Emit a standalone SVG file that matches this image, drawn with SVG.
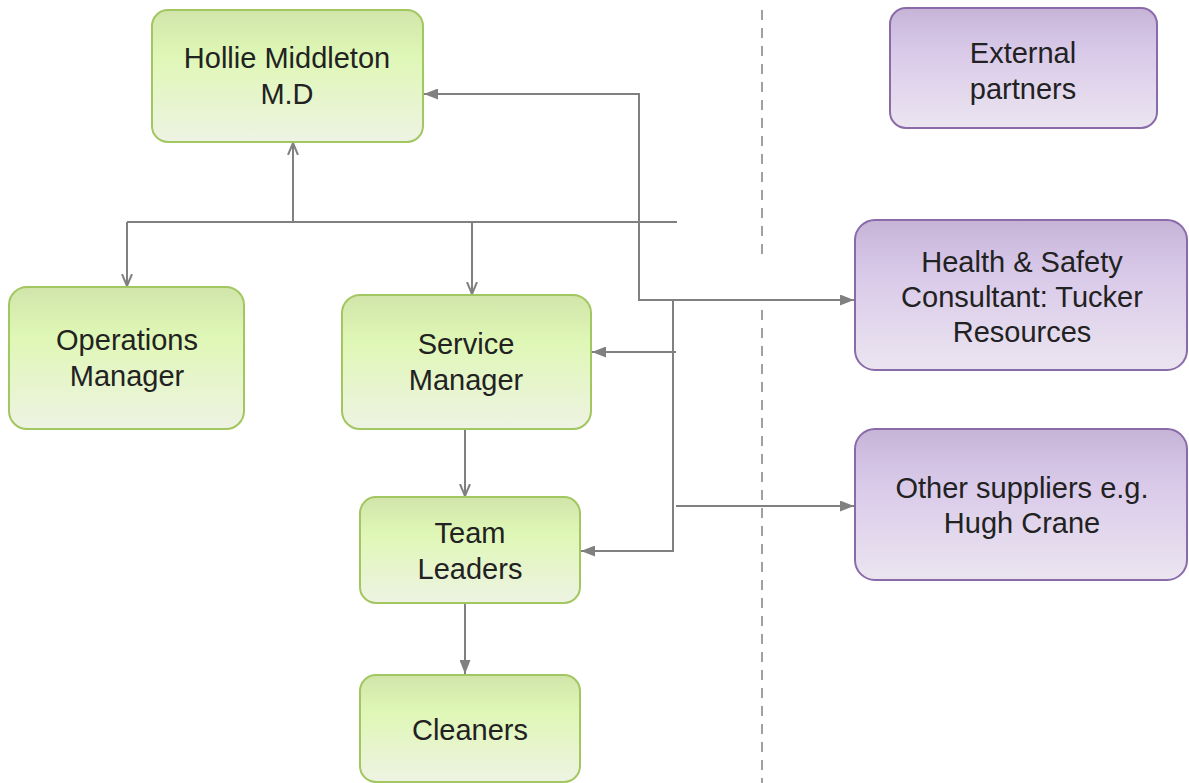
<svg xmlns="http://www.w3.org/2000/svg" width="1189" height="783" viewBox="0 0 1189 783">
<defs>
<linearGradient id="gG" x1="0" y1="0" x2="0" y2="1">
<stop offset="0" stop-color="#d1e5aa"/>
<stop offset="0.35" stop-color="#dff7b6"/>
<stop offset="1" stop-color="#eef3e3"/>
</linearGradient>
<linearGradient id="gP" x1="0" y1="0" x2="0" y2="1">
<stop offset="0" stop-color="#c6b4d7"/>
<stop offset="0.35" stop-color="#d9c9e9"/>
<stop offset="1" stop-color="#ebe5f0"/>
</linearGradient>
<marker id="aF" viewBox="0 0 14 11" refX="14" refY="5.5" markerWidth="14" markerHeight="11" markerUnits="userSpaceOnUse" orient="auto">
<path d="M0,0 L14,5.5 L0,11 Z" fill="#808080"/>
</marker>
<marker id="aO" viewBox="0 0 13 12" refX="12" refY="6" markerWidth="13" markerHeight="12" markerUnits="userSpaceOnUse" orient="auto">
<path d="M0,1 L12,6 L0,11" fill="none" stroke="#808080" stroke-width="2"/>
</marker>
</defs>
<style>
.g{fill:url(#gG);stroke:#a2c660;stroke-width:2}
.p{fill:url(#gP);stroke:#8b6aa9;stroke-width:2}
.t{font-family:"Liberation Sans",Arial,sans-serif;font-size:29px;fill:#222;text-anchor:middle}
.c{fill:none;stroke:#808080;stroke-width:2}
.d{fill:none;stroke:#a0a0a0;stroke-width:2;stroke-dasharray:10,8}
</style>
<g id="divider">
<line class="d" x1="762" y1="10" x2="762" y2="256"/>
<line class="d" x1="762" y1="310" x2="762" y2="783"/>
</g>
<g id="connectors">
<line class="c" x1="127" y1="222" x2="677" y2="222"/>
<line class="c" x1="293" y1="222" x2="293" y2="143" marker-end="url(#aO)"/>
<line class="c" x1="127" y1="222" x2="127" y2="286" marker-end="url(#aO)"/>
<line class="c" x1="472" y1="222" x2="472" y2="294" marker-end="url(#aO)"/>
<line class="c" x1="465" y1="430" x2="465" y2="496" marker-end="url(#aO)"/>
<line class="c" x1="465" y1="604" x2="465" y2="674" marker-end="url(#aF)"/>
<polyline class="c" points="855,300 639,300 639,94 424,94" marker-end="url(#aF)"/>
<line class="c" x1="639" y1="300" x2="854" y2="300" marker-end="url(#aF)"/>
<polyline class="c" points="673,300 673,551 581,551" marker-end="url(#aF)"/>
<line class="c" x1="676" y1="352" x2="592" y2="352" marker-end="url(#aF)"/>
<line class="c" x1="676" y1="506" x2="854" y2="506" marker-end="url(#aF)"/>
</g>
<g id="hollie">
<rect class="g" x="152" y="10" width="271" height="132" rx="16"/>
<text class="t" x="287" y="68">Hollie Middleton</text>
<text class="t" x="287" y="104">M.D</text>
</g>
<g id="operations">
<rect class="g" x="9" y="287" width="235" height="142" rx="18"/>
<text class="t" x="127" y="350">Operations</text>
<text class="t" x="127" y="386">Manager</text>
</g>
<g id="service">
<rect class="g" x="342" y="295" width="249" height="134" rx="18"/>
<text class="t" x="466" y="354">Service</text>
<text class="t" x="466" y="390">Manager</text>
</g>
<g id="teamleaders">
<rect class="g" x="360" y="497" width="220" height="106" rx="16"/>
<text class="t" x="470" y="543">Team</text>
<text class="t" x="470" y="579">Leaders</text>
</g>
<g id="cleaners">
<rect class="g" x="360" y="675" width="220" height="107" rx="16"/>
<text class="t" x="470" y="740">Cleaners</text>
</g>
<g id="external">
<rect class="p" x="890" y="8" width="267" height="120" rx="16"/>
<text class="t" x="1023" y="63">External</text>
<text class="t" x="1023" y="99">partners</text>
</g>
<g id="healthsafety">
<rect class="p" x="855" y="220" width="332" height="150" rx="20"/>
<text class="t" x="1022" y="272">Health &amp; Safety</text>
<text class="t" x="1022" y="307">Consultant: Tucker</text>
<text class="t" x="1022" y="342">Resources</text>
</g>
<g id="suppliers">
<rect class="p" x="855" y="429" width="332" height="151" rx="20"/>
<text class="t" x="1022" y="498">Other suppliers e.g.</text>
<text class="t" x="1022" y="533">Hugh Crane</text>
</g>
</svg>
